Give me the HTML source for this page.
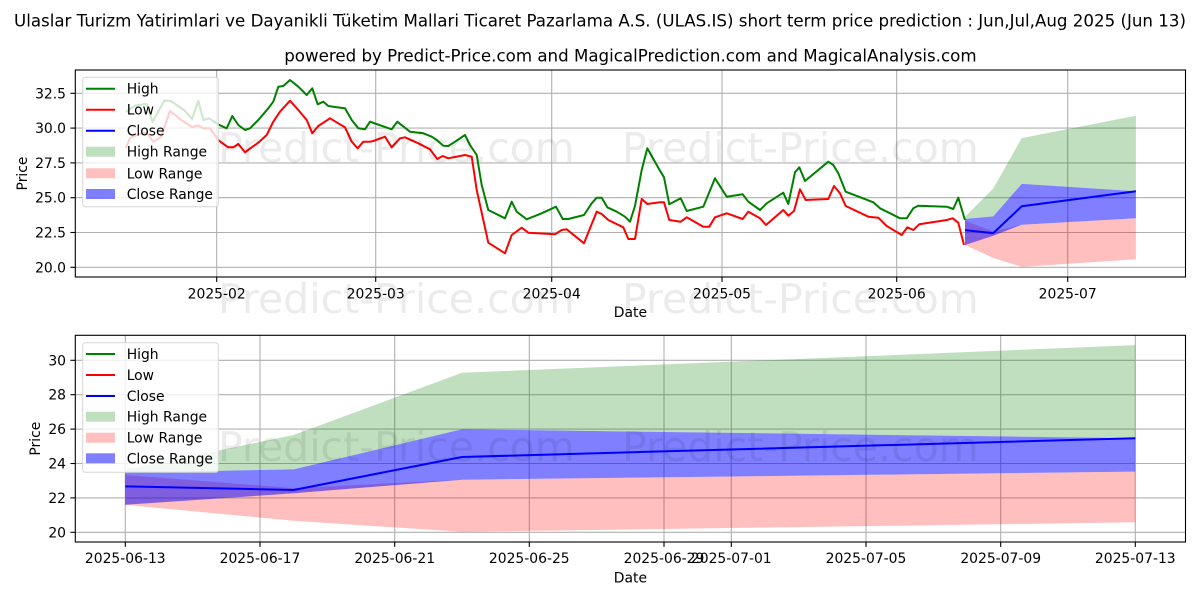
<!DOCTYPE html>
<html><head><meta charset="utf-8"><style>
html,body{margin:0;padding:0;background:#fff;}
svg{display:block;font-family:"DejaVu Sans","Liberation Sans",sans-serif;}
</style></head><body>
<svg width="1200" height="600" viewBox="0 0 1200 600" xmlns="http://www.w3.org/2000/svg">
<rect width="1200" height="600" fill="#fff"/>
<text x="600" y="26.7" font-size="16.67" text-anchor="middle" fill="#000">Ulaslar Turizm Yatirimlari ve Dayanikli Tüketim Mallari Ticaret Pazarlama A.S. (ULAS.IS) short term price prediction : Jun,Jul,Aug 2025 (Jun 13)</text>
<text x="630.4" y="61.7" font-size="16.67" text-anchor="middle" fill="#000">powered by Predict-Price.com and MagicalPrediction.com and MagicalAnalysis.com</text>

<!-- TOP CHART -->
<g stroke="#b0b0b0" stroke-width="1.1">
<line x1="75.3" x2="1185.5" y1="267.3" y2="267.3"/>
<line x1="75.3" x2="1185.5" y1="232.5" y2="232.5"/>
<line x1="75.3" x2="1185.5" y1="197.7" y2="197.7"/>
<line x1="75.3" x2="1185.5" y1="162.9" y2="162.9"/>
<line x1="75.3" x2="1185.5" y1="128.1" y2="128.1"/>
<line x1="75.3" x2="1185.5" y1="93.3" y2="93.3"/>
<line x1="216.7" x2="216.7" y1="70" y2="277"/>
<line x1="375.7" x2="375.7" y1="70" y2="277"/>
<line x1="551.7" x2="551.7" y1="70" y2="277"/>
<line x1="722" x2="722" y1="70" y2="277"/>
<line x1="896.7" x2="896.7" y1="70" y2="277"/>
<line x1="1067.7" x2="1067.7" y1="70" y2="277"/>
</g>
<polygon fill="#008000" fill-opacity="0.25" points="965,216.8 993.3,188.5 1021.7,138.1 1135.9,115.7 1135.9,191.2 1021.7,183.9 993.3,216.4 965,219"/>
<polygon fill="#ff0000" fill-opacity="0.25" points="965,220.9 993.3,231.5 1021.7,224.7 1135.9,218.2 1135.9,259.2 1021.7,266.9 993.3,258 965,245"/>
<polygon fill="#0000ff" fill-opacity="0.5" points="965,219 993.3,216.4 1021.7,183.9 1135.9,191.2 1135.9,218.2 1021.7,224.7 993.3,235.7 965,245"/>
<polyline fill="none" stroke="#008000" stroke-width="2" stroke-linejoin="round" points="125.8,112 135,105.5 146.7,104 152.5,121.7 164.5,100.5 171,101 185,111 192,119 198.3,100.7 203.3,120 209,118.3 218.3,124.5 226.7,128.3 232.3,116 238.3,125 245,130 250,128.3 258.3,120 268.3,108.3 273.3,101.7 278.3,86.7 283.3,86 290,80 298.3,86.7 306.7,95 312.3,88.3 317.7,104.3 323.3,101.7 328.3,106 336.7,107.3 345,108.3 351.7,120 358.3,128.3 365,129.3 370,121.7 375,123.5 391.7,129.3 397.3,121.7 410,131.7 423.3,133.3 431.7,136.7 436.7,140 443.3,145.7 448.3,146 455,141.7 465,135 470,145 476.7,155 481.7,185 488.3,210 505,218.3 511.7,201.7 516.7,211.7 526.7,219.3 541.7,213.3 556,206.7 562.7,219 568.3,219 584,215 591.7,203.3 596.7,197.7 601.7,197.7 607.3,207.3 616.7,211.7 625,216.7 630,221.7 635,206 641.7,170 647.3,148.3 660,170.7 664,177.3 669.3,204.3 680.7,198.3 686.7,211 703.3,206.7 715,178.3 726.7,196.7 742.7,194.3 748.3,201.7 760,210 766.7,203.3 783.3,192.7 788.3,204 795,172.3 799.3,167.3 805,181 828.3,161.7 833.3,165 838.3,173.3 845.7,191.7 873.3,202.3 880,208.3 900,218.3 906.7,218.3 913.3,208.3 918.3,205.7 946.7,206.7 953.3,209 958.3,197.7 965,220"/>
<polyline fill="none" stroke="#ff0000" stroke-width="2" stroke-linejoin="round" points="125.8,148.3 130,138 140,134 147,133 153.3,141.7 161,137 170,111 182,120.5 192,127 198.3,125.5 203.3,128.3 210,128.3 218.3,140 221.7,142.7 228.3,147.3 233.3,147.3 238.3,144 245,152.3 251.7,147.3 258.3,142.7 266.7,135 273.3,121.7 280,111.7 290,100.7 298.3,110 306.7,120 312.3,133.3 318.3,126 330,118.3 338.3,123.3 345,127.3 351.7,141.7 357.7,148.3 363.3,141.7 370,141.7 373.3,141 385,136.7 391.7,147.3 400,138.3 405,137.3 418.3,143.3 430,149.3 437.3,159 442.7,156 448.3,158.3 465,155 471.7,156.7 476.7,190 488.3,242.7 505,253.3 511.7,235 521.7,227.7 528.3,232.7 555,234.3 561.7,230 566.7,229.3 584,243.3 590,228.3 596.7,211.7 601.7,214 608.3,220 623.3,227.3 628.3,239 635,239 641.7,199 647.3,204 660,202.3 664,202.3 669.3,220 680.7,221.7 686.7,217.3 703.3,226.7 709.3,226.7 715,217.3 726.7,213.3 742.7,219 748.3,211.7 760,218.3 766,225 783.3,210 788.3,215.7 794,211 800,189.3 805.7,200 828.3,199 834,186 840,193.3 845.7,206 868.3,216.7 878.3,217.7 886.7,226 901.7,235 907.3,227.3 913.3,230 919.3,224.3 946.7,220 952.7,218.3 958.3,222.7 964,245"/>
<polyline fill="none" stroke="#0000ff" stroke-width="2" stroke-linejoin="round" points="965,230.1 993.3,233.1 1021.7,206.3 1135.9,191.2"/>
<rect x="75.3" y="70" width="1110.2" height="207" fill="none" stroke="#000" stroke-width="1.1"/>
<g stroke="#000" stroke-width="1.1">
<line x1="70.4" x2="75.3" y1="267.3" y2="267.3"/>
<line x1="70.4" x2="75.3" y1="232.5" y2="232.5"/>
<line x1="70.4" x2="75.3" y1="197.7" y2="197.7"/>
<line x1="70.4" x2="75.3" y1="162.9" y2="162.9"/>
<line x1="70.4" x2="75.3" y1="128.1" y2="128.1"/>
<line x1="70.4" x2="75.3" y1="93.3" y2="93.3"/>
<line x1="216.7" x2="216.7" y1="277" y2="281.9"/>
<line x1="375.7" x2="375.7" y1="277" y2="281.9"/>
<line x1="551.7" x2="551.7" y1="277" y2="281.9"/>
<line x1="722" x2="722" y1="277" y2="281.9"/>
<line x1="896.7" x2="896.7" y1="277" y2="281.9"/>
<line x1="1067.7" x2="1067.7" y1="277" y2="281.9"/>
</g>
<g font-size="13.9" fill="#000" text-anchor="end">
<text x="66" y="272.3">20.0</text>
<text x="66" y="237.5">22.5</text>
<text x="66" y="202.7">25.0</text>
<text x="66" y="167.9">27.5</text>
<text x="66" y="133.1">30.0</text>
<text x="66" y="98.3">32.5</text>
</g>
<g font-size="13.9" fill="#000" text-anchor="middle">
<text x="216.7" y="298.3">2025-02</text>
<text x="375.7" y="298.3">2025-03</text>
<text x="551.7" y="298.3">2025-04</text>
<text x="722" y="298.3">2025-05</text>
<text x="896.7" y="298.3">2025-06</text>
<text x="1067.7" y="298.3">2025-07</text>
<text x="630.4" y="317">Date</text>
<text transform="translate(27,173.5) rotate(-90)">Price</text>
</g>
<!-- top legend -->
<rect x="82.7" y="77.3" width="135.6" height="129.4" rx="2.8" fill="#fff" fill-opacity="0.8" stroke="#d6d6d6" stroke-width="1"/>
<line x1="86" x2="115" y1="88.7" y2="88.7" stroke="#008000" stroke-width="2"/>
<line x1="86" x2="115" y1="109.7" y2="109.7" stroke="#ff0000" stroke-width="2"/>
<line x1="86" x2="115" y1="130.7" y2="130.7" stroke="#0000ff" stroke-width="2"/>
<rect x="86" y="146.7" width="29" height="10" fill="#008000" fill-opacity="0.25"/>
<rect x="86" y="168.3" width="29" height="10" fill="#ff0000" fill-opacity="0.25"/>
<rect x="86" y="189" width="29" height="10" fill="#0000ff" fill-opacity="0.5"/>
<g font-size="13.9" fill="#000">
<text x="126.7" y="93.7">High</text>
<text x="126.7" y="114.7">Low</text>
<text x="126.7" y="135.7">Close</text>
<text x="126.7" y="156.7">High Range</text>
<text x="126.7" y="178.3">Low Range</text>
<text x="126.7" y="199">Close Range</text>
</g>

<!-- BOTTOM CHART -->
<g stroke="#b0b0b0" stroke-width="1.1">
<line x1="75.3" x2="1185.5" y1="532.3" y2="532.3"/>
<line x1="75.3" x2="1185.5" y1="497.9" y2="497.9"/>
<line x1="75.3" x2="1185.5" y1="463.5" y2="463.5"/>
<line x1="75.3" x2="1185.5" y1="429.1" y2="429.1"/>
<line x1="75.3" x2="1185.5" y1="394.7" y2="394.7"/>
<line x1="75.3" x2="1185.5" y1="360.3" y2="360.3"/>
<line x1="125.3" x2="125.3" y1="335.3" y2="542"/>
<line x1="260" x2="260" y1="335.3" y2="542"/>
<line x1="394.7" x2="394.7" y1="335.3" y2="542"/>
<line x1="529.3" x2="529.3" y1="335.3" y2="542"/>
<line x1="664" x2="664" y1="335.3" y2="542"/>
<line x1="731.3" x2="731.3" y1="335.3" y2="542"/>
<line x1="866" x2="866" y1="335.3" y2="542"/>
<line x1="1000.7" x2="1000.7" y1="335.3" y2="542"/>
<line x1="1135.3" x2="1135.3" y1="335.3" y2="542"/>
</g>
<polygon fill="#008000" fill-opacity="0.25" points="125.3,469.9 293.6,435 462,372.8 1135.3,345.1 1135.3,438.2 462,429.3 293.6,469.4 125.3,472.6"/>
<polygon fill="#ff0000" fill-opacity="0.25" points="125.3,475 293.6,488.1 462,479.7 1135.3,471.6 1135.3,522.3 462,531.8 293.6,520.8 125.3,504.8"/>
<polygon fill="#0000ff" fill-opacity="0.5" points="125.3,472.6 293.6,469.4 462,429.3 1135.3,438.2 1135.3,471.6 462,479.7 293.6,493.3 125.3,504.8"/>
<polyline fill="none" stroke="#0000ff" stroke-width="2" stroke-linejoin="round" points="125.3,486.4 293.6,490 462,457 1135.3,438.2"/>
<rect x="75.3" y="335.3" width="1110.2" height="206.7" fill="none" stroke="#000" stroke-width="1.1"/>
<g stroke="#000" stroke-width="1.1">
<line x1="70.4" x2="75.3" y1="532.3" y2="532.3"/>
<line x1="70.4" x2="75.3" y1="497.9" y2="497.9"/>
<line x1="70.4" x2="75.3" y1="463.5" y2="463.5"/>
<line x1="70.4" x2="75.3" y1="429.1" y2="429.1"/>
<line x1="70.4" x2="75.3" y1="394.7" y2="394.7"/>
<line x1="70.4" x2="75.3" y1="360.3" y2="360.3"/>
<line x1="125.3" x2="125.3" y1="542" y2="546.9"/>
<line x1="260" x2="260" y1="542" y2="546.9"/>
<line x1="394.7" x2="394.7" y1="542" y2="546.9"/>
<line x1="529.3" x2="529.3" y1="542" y2="546.9"/>
<line x1="664" x2="664" y1="542" y2="546.9"/>
<line x1="731.3" x2="731.3" y1="542" y2="546.9"/>
<line x1="866" x2="866" y1="542" y2="546.9"/>
<line x1="1000.7" x2="1000.7" y1="542" y2="546.9"/>
<line x1="1135.3" x2="1135.3" y1="542" y2="546.9"/>
</g>
<g font-size="13.9" fill="#000" text-anchor="end">
<text x="66" y="537.3">20</text>
<text x="66" y="502.9">22</text>
<text x="66" y="468.5">24</text>
<text x="66" y="434.1">26</text>
<text x="66" y="399.7">28</text>
<text x="66" y="365.3">30</text>
</g>
<g font-size="13.9" fill="#000" text-anchor="middle">
<text x="125.3" y="563">2025-06-13</text>
<text x="260" y="563">2025-06-17</text>
<text x="394.7" y="563">2025-06-21</text>
<text x="529.3" y="563">2025-06-25</text>
<text x="664" y="563">2025-06-29</text>
<text x="731.3" y="563">2025-07-01</text>
<text x="866" y="563">2025-07-05</text>
<text x="1000.7" y="563">2025-07-09</text>
<text x="1135.3" y="563">2025-07-13</text>
<text x="630.4" y="582.5">Date</text>
<text transform="translate(40,438.7) rotate(-90)">Price</text>
</g>
<!-- bottom legend -->
<rect x="82.7" y="342.7" width="135.6" height="129.6" rx="2.8" fill="#fff" fill-opacity="0.8" stroke="#d6d6d6" stroke-width="1"/>
<line x1="86" x2="115" y1="354" y2="354" stroke="#008000" stroke-width="2"/>
<line x1="86" x2="115" y1="375" y2="375" stroke="#ff0000" stroke-width="2"/>
<line x1="86" x2="115" y1="396" y2="396" stroke="#0000ff" stroke-width="2"/>
<rect x="86" y="411.7" width="29" height="10" fill="#008000" fill-opacity="0.25"/>
<rect x="86" y="432.7" width="29" height="10" fill="#ff0000" fill-opacity="0.25"/>
<rect x="86" y="453.3" width="29" height="10" fill="#0000ff" fill-opacity="0.5"/>
<g font-size="13.9" fill="#000">
<text x="126.7" y="359">High</text>
<text x="126.7" y="380">Low</text>
<text x="126.7" y="401">Close</text>
<text x="126.7" y="421.7">High Range</text>
<text x="126.7" y="442.7">Low Range</text>
<text x="126.7" y="463.3">Close Range</text>
</g>

<!-- watermarks -->
<g font-size="41" fill="#000" fill-opacity="0.08">
<text x="218" y="162">Predict-Price.com</text>
<text x="622" y="162">Predict-Price.com</text>
<text x="218" y="313">Predict-Price.com</text>
<text x="622" y="313">Predict-Price.com</text>
<text x="218" y="461">Predict-Price.com</text>
<text x="622" y="461">Predict-Price.com</text>
</g>
</svg>
</body></html>
